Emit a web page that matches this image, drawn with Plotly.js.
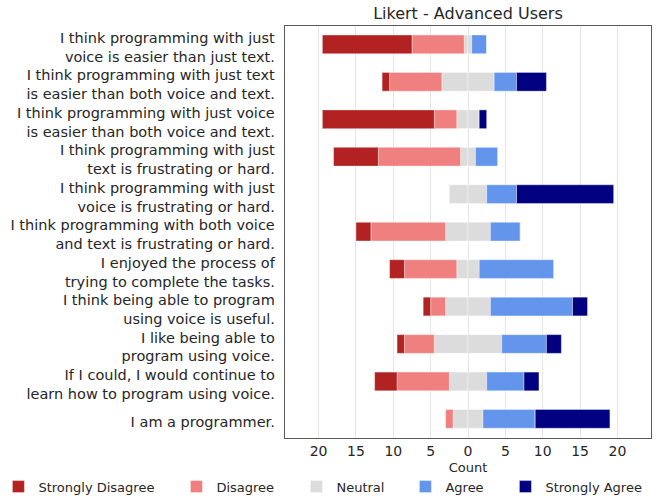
<!DOCTYPE html>
<html>
<head>
<meta charset="utf-8">
<script src="https://cdn.plot.ly/plotly-3.0.1.min.js"></script>
<style>html,body{margin:0;padding:0;background:#fff;}#chart{width:660px;height:497px;}</style>
</head>
<body>
<div id="chart"></div>
<script>
// Survey statements (top to bottom)
const statements = [
  "I think programming with just<br>voice is easier than just text.",
  "I think programming with just text<br>is easier than both voice and text.",
  "I think programming with just voice<br>is easier than both voice and text.",
  "I think programming with just<br>text is frustrating or hard.",
  "I think programming with just<br>voice is frustrating or hard.",
  "I think programming with both voice<br>and text is frustrating or hard.",
  "I enjoyed the process of<br>trying to complete the tasks.",
  "I think being able to program<br>using voice is useful.",
  "I like being able to<br>program using voice.",
  "If I could, I would continue to<br>learn how to program using voice.",
  "I am a programmer."
];
// Response counts per statement
const stronglyDisagree = [12, 1, 15, 6, 0, 2, 2, 1, 1, 3, 0];
const disagree         = [7, 7, 3, 11, 0, 10, 7, 2, 4, 7, 1];
const neutral          = [1, 7, 3, 2, 5, 6, 3, 6, 9, 5, 4];
const agree            = [2, 3, 0, 3, 4, 4, 10, 11, 6, 5, 7];
const stronglyAgree    = [0, 4, 1, 0, 13, 0, 0, 2, 2, 2, 10];

const tickValues = [-20, -15, -10, -5, 0, 5, 10, 15, 20];
const tickLabels = ["20", "15", "10", "5", "0", "5", "10", "15", "20"];

const colors = {
  sd: "#B22222", d: "#F08080", n: "#DCDCDC", a: "#6495ED", sa: "#000080"
};
const edge = {color: "rgba(255,255,255,0.55)", width: 0.7};

function bar(name, xs, color, rank, show, group, lw) {
  return {
    type: "bar", orientation: "h", name: name,
    x: xs, y: statements, width: 0.5,
    marker: {color: color, line: edge},
    legendrank: rank, showlegend: show, legendgroup: group,
    legendwidth: lw,
    hoverinfo: "none"
  };
}

const traces = [
  bar("Neutral", neutral.map(v => -v / 2), colors.n, 3, false, "n", 64),
  bar("Neutral", neutral.map(v => v / 2), colors.n, 3, true, "n", 64),
  bar("Disagree", disagree.map(v => -v), colors.d, 2, true, "d", 75),
  bar("Agree", agree, colors.a, 4, true, "a", 55),
  bar("Strongly Disagree", stronglyDisagree.map(v => -v), colors.sd, 1, true, "sd", 133),
  bar("Strongly Agree", stronglyAgree, colors.sa, 5, true, "sa", 100)
];

const txt = "#262626";
const layout = {
  width: 660, height: 497,
  margin: {l: 285, r: 9, t: 26, b: 59, autoexpand: false},
  paper_bgcolor: "#fff", plot_bgcolor: "#fff",
  font: {family: "DejaVu Sans", size: 13, color: txt},
  barmode: "relative",
  bargap: 0,
  title: {text: "Likert - Advanced Users", font: {size: 16, color: txt}, x: 0.709, xanchor: "center", y: 0.974, yanchor: "middle"},
  xaxis: {
    range: [-24.5, 24.5],
    tickvals: tickValues, ticktext: tickLabels,
    showgrid: true, gridcolor: "#e5e5e5", gridwidth: 1,
    zeroline: false,
    showline: true, linecolor: "#595959", linewidth: 1.3, mirror: true,
    ticks: "", ticklabelstandoff: 0,
    title: {text: "Count", font: {size: 13, color: txt}, standoff: 4},
    tickfont: {size: 14, color: txt}
  },
  yaxis: {
    type: "category", categoryorder: "array", categoryarray: statements,
    range: [10.51, -0.49],
    showgrid: false, zeroline: false,
    showline: true, linecolor: "#595959", linewidth: 1.3, mirror: true,
    ticks: "", ticklabelstandoff: 6, ticklabelshift: -3,
    tickfont: {size: 14.5, color: txt}
  },
  legend: {
    orientation: "h", x: -0.783, xanchor: "left", y: -0.118, yanchor: "middle",
    font: {size: 13, color: txt}, traceorder: "normal",
    bgcolor: "rgba(0,0,0,0)"
  },
  showlegend: true
};

Plotly.newPlot("chart", traces, layout, {displayModeBar: false, staticPlot: true});
</script>
</body>
</html>
